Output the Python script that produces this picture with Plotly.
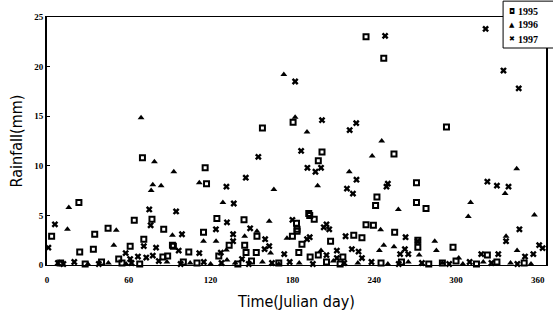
import plotly.graph_objects as go

# ---- data ----
days_1995 = [234, 247, 180.5, 158, 293, 201.7, 254.5, 70, 199, 116, 271, 117, 242, 271, 23.4, 241, 278,
             192, 192.7, 64, 77, 196, 124.6, 144.5, 183, 234, 239.4, 44.8, 85.6, 183.4, 183.4, 114.8, 255,
             35, 3.4, 154, 180, 225, 231, 71, 272, 208, 187, 133.6, 92, 145, 61, 92.7, 272, 297.8, 34, 24,
             104, 146, 153.5, 184.7, 323, 88.5, 85, 217, 52.6, 126, 193, 199,
             10, 28, 40, 55, 68, 100, 110, 140, 150, 170, 205, 215, 245, 260, 280, 290, 300, 315, 330, 350]
rain_1995 = [23.0, 20.85, 14.4, 13.8, 13.9, 11.4, 11.2, 10.8, 10.5, 9.8, 8.3, 8.2, 6.85, 6.3, 6.3, 6.0, 5.7,
             5.2, 5.0, 4.5, 4.6, 4.6, 4.7, 4.55, 4.2, 4.05, 4.0, 3.7, 3.6, 3.6, 3.4, 3.3, 3.3,
             3.1, 2.9, 2.9, 2.9, 3.0, 2.75, 2.6, 2.5, 2.4, 2.1, 2.0, 2.0, 2.0, 1.9, 1.9, 1.8, 1.8, 1.6, 1.3,
             1.3, 1.25, 1.25, 1.25, 1.0, 0.9, 0.8, 0.8, 0.6, 0.9, 0.8, 1.0,
             0.2, 0.1, 0.3, 0.2, 0.1, 0.3, 0.2, 0.1, 0.4, 0.2, 0.3, 0.1, 0.2, 0.3, 0.1, 0.2, 0.4, 0.1, 0.3, 0.2]

days_1996 = [173.7, 182, 69, 190.7, 245.5, 238.5, 78.8, 344.5, 93, 221.7, 111.7, 77.6, 83.7, 198.5, 166.4,
             76.4, 336, 129, 310.7, 16, 257.7, 309, 357.5, 163, 15, 50.8, 244.7, 154, 92, 145, 336.7,
             176, 114.8, 124, 284.4, 49, 247, 254.5, 131.6, 201, 243.8, 285.6, 344.8, 164, 273, 302, 132,
             30, 45, 58, 88, 105, 120, 138, 158, 170, 185, 210, 228, 250, 265, 290, 305, 320, 340, 355]
rain_1996 = [19.2, 14.9, 14.85, 13.4, 12.5, 11.0, 10.4, 9.7, 9.4, 9.4, 8.3, 8.1, 8.0, 8.0, 7.6,
             7.5, 7.2, 6.3, 6.3, 5.8, 5.6, 4.9, 5.05, 4.4, 3.6, 3.5, 3.55, 3.4, 3.0, 2.9, 2.9,
             2.7, 2.4, 2.4, 2.4, 2.0, 2.0, 1.85, 1.5, 1.45, 1.45, 1.45, 1.45, 1.2, 1.0, 0.7, 0.5,
             0.1, 0.2, 0.1, 0.3, 0.2, 0.1, 0.2, 0.3, 0.1, 0.2, 0.4, 0.2, 0.1, 0.3, 0.2, 0.1, 0.3, 0.2, 0.1]

days_1997 = [321.7, 248, 334.8, 182, 346, 201.7, 226.8, 222, 186.4, 155, 191, 201, 196.9, 145.8, 227, 323,
             250, 330, 131.6, 249, 338.5, 220, 224.4, 137, 75, 94.7, 132, 180, 205, 5.8, 76, 203, 149,
             123.9, 207, 346.5, 99, 136.5, 219, 192.7, 263, 160, 190.7, 136.5, 272, 336.7, 361, 71, 163,
             1, 80, 363.5, 159.6, 223.6, 262.5, 96.6, 212.6, 228.5, 127.5, 57.7, 111.7, 265, 331, 318.5,
             356.7, 174, 205, 77.6, 72.8, 66.7, 350.6, 212.6, 231, 61, 143, 259,
             8, 12, 20, 38, 62, 82, 98, 115, 128, 148, 165, 178, 195, 218, 238, 258, 275, 295, 310, 326, 345]
rain_1997 = [23.8, 23.1, 19.6, 18.5, 17.8, 14.6, 14.3, 13.6, 11.5, 10.9, 9.8, 9.8, 9.4, 8.8, 8.6, 8.4,
             8.2, 8.0, 7.9, 7.9, 7.9, 7.7, 7.2, 6.2, 5.6, 5.4, 4.3, 4.55, 4.1, 4.1, 4.0, 3.8, 3.7,
             3.6, 3.6, 3.6, 3.1, 3.1, 2.9, 2.8, 2.8, 2.6, 2.6, 2.4, 2.4, 2.4, 2.0, 1.9, 1.9,
             1.75, 1.75, 1.7, 1.6, 1.6, 1.6, 1.45, 1.45, 1.35, 1.25, 1.2, 1.2, 1.1, 1.1, 1.1,
             1.1, 1.1, 1.0, 0.95, 0.75, 0.85, 0.85, 0.7, 0.7, 0.6, 0.6, 1.1,
             0.2, 0.1, 0.3, 0.1, 0.2, 0.4, 0.1, 0.3, 0.2, 0.1, 0.2, 0.3, 0.1, 0.2, 0.3, 0.1, 0.2, 0.1, 0.3, 0.2, 0.1]

series_names = ["1995", "1996", "1997"]
legend_glyphs = ["◘", "▲", "✖"]
x_ticks = [0, 60, 120, 180, 240, 300, 360]
y_ticks = [0, 5, 10, 15, 20, 25]

fig = go.Figure()
fig.add_trace(go.Scatter(x=days_1995, y=rain_1995, mode="markers", name=series_names[0],
                         marker=dict(symbol="square-open", size=5, color="black", line=dict(width=2, color="black")),
                         cliponaxis=False))
fig.add_trace(go.Scatter(x=days_1996, y=rain_1996, mode="markers", name=series_names[1],
                         marker=dict(symbol="triangle-up", size=6, color="black"),
                         cliponaxis=False))
fig.add_trace(go.Scatter(x=days_1997, y=rain_1997, mode="markers", name=series_names[2],
                         marker=dict(symbol="x", size=6, color="black", line=dict(width=0)),
                         cliponaxis=False))

tickfont = dict(family="Liberation Serif", size=9, color="black", weight="bold")
titlefont = dict(family="Liberation Sans Narrow, DejaVu Sans Condensed, Liberation Sans", size=16, color="black")

# manual legend box (paper coords)
fig.add_shape(type="rect", xref="paper", yref="paper", x0=0.914, x1=1.02, y0=0.875, y1=1.064,
              line=dict(color="black", width=1), fillcolor="white", layer="above")
row_y = [1.024, 0.968, 0.911]
glyph_size = [8, 7, 7]
for name, glyph, yy, gs in zip(series_names, legend_glyphs, row_y, glyph_size):
    fig.add_annotation(x=0.931, y=yy, xref="paper", yref="paper", text=glyph, showarrow=False,
                       xanchor="center", yanchor="middle",
                       font=dict(family="DejaVu Sans", size=gs, color="black"))
    fig.add_annotation(x=0.940, y=yy, xref="paper", yref="paper", text=name, showarrow=False,
                       xanchor="left", yanchor="middle",
                       font=dict(family="Liberation Serif", size=10, color="black", weight="bold"))

fig.update_layout(
    width=553, height=321,
    margin=dict(l=47, r=5, t=17, b=56),
    paper_bgcolor="white", plot_bgcolor="white",
    showlegend=False,
    xaxis=dict(range=[0, 366], tickvals=x_ticks, showgrid=False, zeroline=False,
               showline=True, linecolor="black", linewidth=1, mirror=True,
               ticks="", tickfont=tickfont, ticklabelstandoff=6,
               title=dict(text="Time(Julian day)", font=titlefont, standoff=12)),
    yaxis=dict(range=[0, 25], tickvals=y_ticks, showgrid=False, zeroline=False,
               showline=True, linecolor="black", linewidth=2, mirror=True,
               ticks="inside", ticklen=3, tickcolor="black", tickfont=tickfont,
               title=dict(text="Rainfall(mm)", font=titlefont, standoff=8)),
)

fig.write_html("out.html")
